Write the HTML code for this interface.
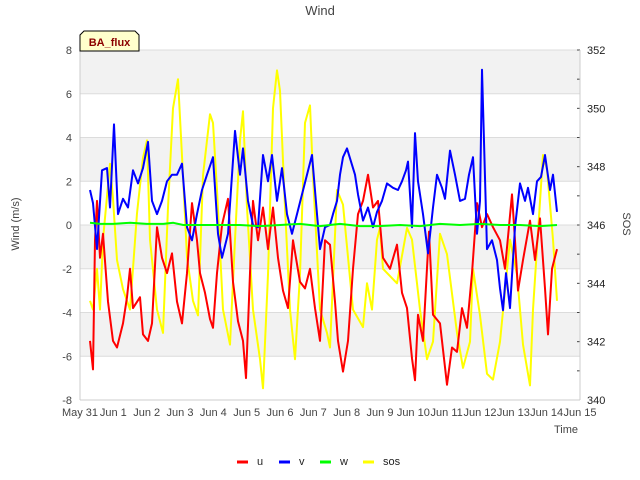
<!DOCTYPE html>
<html><head><meta charset="utf-8"><style>
body{margin:0;background:#fff;}
svg{display:block;font-family:"Liberation Sans","DejaVu Sans",sans-serif;}
</style></head><body>
<svg id="chart" width="640" height="480" viewBox="0 0 640 480" xmlns="http://www.w3.org/2000/svg">
<g id="bands"></g>
<g id="grid"></g>
<g id="series"></g>
<g id="axes"></g>
<text x="320" y="15" text-anchor="middle" font-size="13" fill="#444">Wind</text>
<text transform="translate(19,224) rotate(-90)" text-anchor="middle" font-size="11" fill="#444">Wind (m/s)</text>
<text transform="translate(623,224) rotate(90)" text-anchor="middle" font-size="11" fill="#444">SOS</text>
<text x="578" y="433" text-anchor="end" font-size="11" fill="#444">Time</text>
<g>
<path d="M80,51 L80,35 L84,31 L135,31 L139,35 L139,51 Z" fill="#ffffcc" stroke="#000" stroke-width="1"/>
<text x="109.5" y="46" text-anchor="middle" font-size="11" font-weight="bold" fill="#8b0000">BA_flux</text>
</g>
<g id="legend"></g>
</svg>
<script>
const uT=[0.30,0.39,0.45,0.51,0.60,0.69,0.84,0.99,1.11,1.29,1.41,1.50,1.59,1.80,1.89,2.04,2.16,2.31,2.46,2.61,2.76,2.91,3.06,3.21,3.36,3.51,3.60,3.75,3.90,3.99,4.11,4.26,4.44,4.59,4.74,4.89,4.98,5.10,5.19,5.34,5.49,5.64,5.79,5.94,6.09,6.24,6.39,6.60,6.75,6.90,7.05,7.20,7.35,7.50,7.65,7.74,7.89,8.04,8.19,8.34,8.49,8.64,8.79,8.94,9.09,9.30,9.51,9.66,9.81,9.96,10.05,10.14,10.29,10.47,10.59,10.80,11.01,11.16,11.31,11.46,11.61,11.76,11.91,12.06,12.21,12.39,12.60,12.75,12.96,13.05,13.14,13.29,13.50,13.65,13.80,13.95,14.04,14.16,14.31];
const uV=[-5.3,-6.6,-0.7,1.1,-1.5,-0.4,-3.5,-5.3,-5.6,-4.5,-3.3,-2.0,-3.8,-3.3,-5.0,-5.3,-4.5,-0.1,-1.5,-2.2,-1.3,-3.5,-4.5,-2.2,1.0,-0.7,-2.2,-3.1,-4.3,-4.7,-2.2,0.0,1.2,-2.6,-4.4,-5.3,-7.0,-2.2,1.1,-0.7,0.8,-1.1,0.8,-1.5,-3.0,-3.8,-0.7,-2.6,-2.9,-2.0,-3.8,-5.3,-0.7,-0.9,-3.5,-5.3,-6.7,-5.3,-2.0,0.5,1.1,2.3,0.8,1.1,-1.5,-2.0,-0.9,-3.1,-3.8,-6.1,-7.1,-4.1,-5.3,-0.3,-4.1,-4.5,-7.3,-5.6,-5.8,-3.8,-4.7,-2.2,1.0,-0.1,0.5,-0.1,-0.7,-2.0,1.4,-0.7,-3.0,-1.6,0.2,-1.6,0.3,-2.9,-5.0,-2.0,-1.1];
const vT=[0.30,0.39,0.51,0.66,0.81,0.90,1.02,1.14,1.29,1.44,1.59,1.74,1.89,2.04,2.16,2.31,2.46,2.61,2.76,2.91,3.06,3.21,3.36,3.51,3.66,3.81,3.99,4.14,4.26,4.44,4.65,4.80,4.89,5.04,5.19,5.34,5.49,5.64,5.76,5.91,6.06,6.21,6.36,6.51,6.66,6.81,6.96,7.11,7.20,7.35,7.50,7.59,7.71,7.80,7.89,8.01,8.25,8.34,8.49,8.64,8.79,8.91,9.06,9.21,9.39,9.54,9.66,9.78,9.84,9.96,10.05,10.14,10.29,10.44,10.59,10.71,10.86,10.95,11.10,11.25,11.40,11.55,11.67,11.79,11.91,12.00,12.06,12.21,12.36,12.51,12.60,12.69,12.78,12.90,13.05,13.20,13.35,13.44,13.59,13.71,13.83,13.95,14.10,14.19,14.31];
const vV=[1.6,1.0,-1.1,2.5,2.6,0.8,4.6,0.5,1.2,0.8,2.5,1.9,2.6,3.8,1.1,0.5,1.1,2.0,2.3,2.3,2.8,-0.1,-0.7,0.5,1.6,2.3,3.1,-0.4,-1.5,-0.4,4.3,2.3,3.5,1.1,0.0,-0.1,3.2,2.0,3.2,1.1,2.6,0.5,-0.4,0.5,1.4,2.3,3.2,0.5,-1.1,-0.1,0.0,0.5,1.1,2.3,3.1,3.5,2.3,1.4,0.2,0.8,-0.1,0.6,1.1,1.9,1.7,1.6,2.0,2.5,2.9,-0.1,4.2,2.0,0.5,-1.3,0.8,2.3,1.7,1.2,3.4,2.3,1.1,1.2,2.3,3.1,-0.4,1.1,7.1,-1.1,-0.7,-1.6,-2.9,-3.9,-2.2,-3.8,-0.1,1.9,1.1,1.7,0.5,2.0,2.2,3.2,1.6,2.3,0.6,0.5];
const wT=[0.30,0.6,1.0,1.5,2.0,2.5,2.8,3.1,3.6,4.2,4.8,5.4,6.0,6.6,7.2,7.8,8.4,9.0,9.6,10.2,10.8,11.4,12.0,12.6,13.2,13.8,14.31];
const wV=[0.1,0.05,0.05,0.1,0.05,0.05,0.1,0.0,0.0,0.0,0.0,-0.05,0.0,0.05,-0.05,0.05,-0.05,-0.05,0.0,-0.05,0.05,0.0,0.05,0.0,0.0,-0.05,0.0];
const sT=[0.30,0.39,0.51,0.60,0.69,0.90,0.99,1.11,1.29,1.50,1.71,1.89,2.01,2.10,2.31,2.49,2.64,2.79,2.94,3.09,3.21,3.39,3.54,3.69,3.90,3.99,4.11,4.29,4.50,4.65,4.80,4.89,5.01,5.19,5.40,5.49,5.64,5.79,5.91,6.00,6.15,6.30,6.45,6.60,6.75,6.90,6.99,7.20,7.41,7.50,7.71,7.89,8.19,8.49,8.61,8.76,8.91,9.00,9.09,9.51,9.81,9.96,10.20,10.41,10.59,10.80,11.01,11.31,11.49,11.70,11.79,12.00,12.21,12.39,12.60,12.90,13.11,13.29,13.50,13.59,13.89,14.01,14.19,14.31];
const sV=[343.4,343.1,344.5,343.1,345.5,348.1,346.9,344.8,343.8,343.1,346.4,348.3,348.9,345.5,343.1,342.3,346.6,350.0,351.0,347.7,344.9,343.4,342.9,347.7,349.8,349.5,347.2,343.1,341.9,345.5,348.9,349.9,346.6,343.1,341.4,340.4,344.3,350.0,351.3,350.6,346.6,343.1,341.4,344.3,349.5,350.1,347.7,343.1,342.3,341.8,347.2,346.7,343.1,342.5,344.0,343.1,345.5,345.9,344.5,344.0,345.9,345.5,343.1,341.4,342.0,345.7,345.0,342.3,341.1,342.0,344.5,342.9,340.9,340.7,342.0,345.5,344.3,341.9,340.5,343.1,348.4,347.9,345.5,343.4];
const yTicks=[-8,-6,-4,-2,0,2,4,6,8];
const y2Ticks=[340,342,344,346,348,350,352];
const xLabels=["May 31","Jun 1","Jun 2","Jun 3","Jun 4","Jun 5","Jun 6","Jun 7","Jun 8","Jun 9","Jun 10","Jun 11","Jun 12","Jun 13","Jun 14","Jun 15"];

const NS="http://www.w3.org/2000/svg";
const L=80,R=580,T=50,B=400;
const x=d=>L+d*(R-L)/15;
const y=v=>B-(v+8)*(B-T)/16;
const y2=v=>B-(v-340)*(B-T)/12;
function mk(tag,attrs,parent){const e=document.createElementNS(NS,tag);for(const k in attrs)e.setAttribute(k,attrs[k]);parent.appendChild(e);return e;}
const bands=document.getElementById('bands'),grid=document.getElementById('grid'),axes=document.getElementById('axes'),series=document.getElementById('series'),legend=document.getElementById('legend');
mk('rect',{x:L,y:T,width:R-L,height:B-T,fill:'#fff'},bands);
for(let i=0;i<yTicks.length-1;i++){
  if(i%2===1){const r=mk('rect',{x:L,y:y(yTicks[i+1]),width:R-L,height:y(yTicks[i])-y(yTicks[i+1]),fill:'#f2f2f2'},bands);
  
  }
}
yTicks.forEach(v=>{
  const g=mk('line',{x1:L,x2:R,y1:y(v),y2:y(v),stroke:'#dcdcdc','stroke-width':1},grid);
  
  
  const t=mk('text',{x:L-8,y:y(v)+4,'text-anchor':'end','font-size':11,fill:'#444'},axes);t.textContent=v;
  
  
});
for(let v=340;v<=352;v++){mk('line',{x1:R-3,x2:R,y1:y2(v),y2:y2(v),stroke:'#444','stroke-width':1},axes);}
y2Ticks.forEach(v=>{
  const t=mk('text',{x:R+7,y:y2(v)+4,'font-size':11,fill:'#222'},axes);t.textContent=v;
  
  
});
mk('line',{x1:L,x2:L,y1:T,y2:B,stroke:'#ccc'},axes);
mk('line',{x1:R,x2:R,y1:T,y2:B,stroke:'#ccc'},axes);
mk('line',{x1:L,x2:R,y1:B,y2:B,stroke:'#ccc'},axes);
xLabels.forEach((s,i)=>{
  const t=mk('text',{x:x(i),y:416,'text-anchor':'middle','font-size':11,fill:'#444'},axes);t.textContent=s;
  
  
});
function line(ts,vs,fy,color,name,w){
  const d=ts.map((t,i)=>(i?'L':'M')+x(t).toFixed(1)+','+fy(vs[i]).toFixed(1)).join(' ');
  const p=mk('path',{d:d,fill:'none',stroke:color,'stroke-width':w,'stroke-linejoin':'round'},series);
  
  
}
line(sT,sV,y2,'#ffff00','sos-line',2);
line(uT,uV,y,'#ff0000','u-line',2);
line(vT,vV,y,'#0000ff','v-line',2);
line(wT,wV,y,'#00ff00','w-line',2);
const leg=[['u','#ff0000',237],['v','#0000ff',279],['w','#00ff00',320],['sos','#ffff00',363]];
leg.forEach(([n,c,lx])=>{
  const g=mk('g',{},legend);
  
  
  mk('line',{x1:lx,x2:lx+11,y1:462,y2:462,stroke:c,'stroke-width':3},g);
  const t=mk('text',{x:lx+20,y:465,'font-size':11,fill:'#222'},g);t.textContent=n;
});
</script>
</body></html>
